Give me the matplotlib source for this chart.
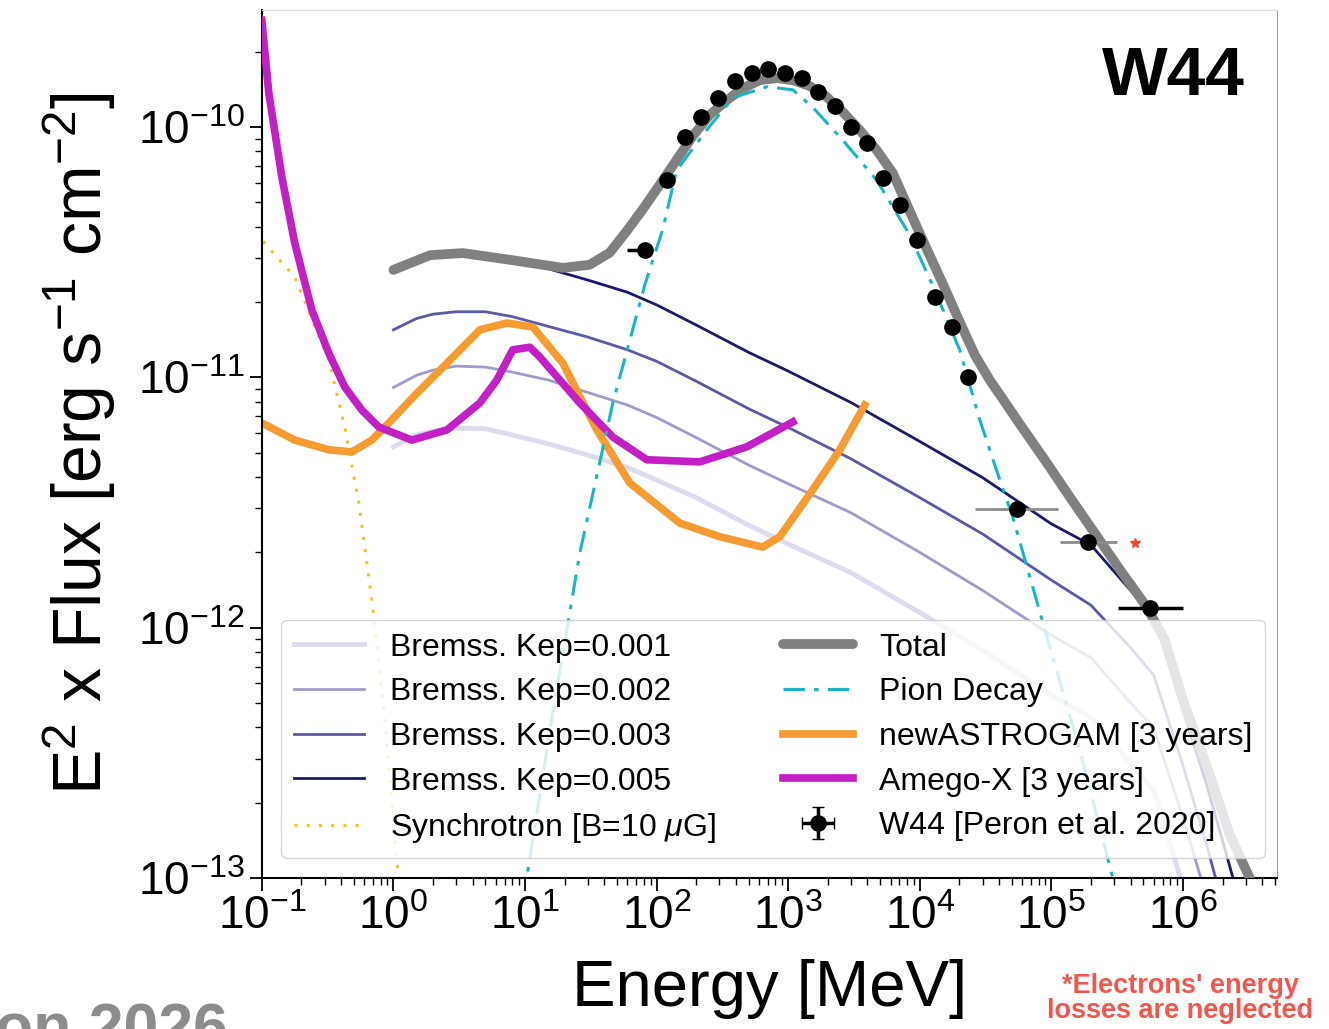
import numpy as np
import matplotlib
matplotlib.use('Agg')
import matplotlib.pyplot as plt
from matplotlib.ticker import LogLocator, NullFormatter

plt.rcParams['font.family'] = ['Liberation Sans', 'DejaVu Sans']
plt.rcParams['mathtext.fontset'] = 'custom'
plt.rcParams['mathtext.rm'] = 'Liberation Sans'
plt.rcParams['mathtext.it'] = 'Liberation Sans:italic'
plt.rcParams['mathtext.bf'] = 'Liberation Sans:bold'

# energies in MeV, fluxes (E^2 x flux) in erg s^-1 cm^-2
brems_E = [1, 1.5, 2, 3, 5, 8, 15, 30, 60, 100, 200, 500, 1e3, 3e3, 1e4, 3e4,
           1e5, 2e5, 4e5, 6e5, 1e6, 1.5e6, 2e6, 2.4e6, 3e6]
brems_kep001 = [5.28e-12, 5.89e-12, 6.10e-12, 6.27e-12, 6.24e-12, 5.89e-12, 5.43e-12,
                4.90e-12, 4.37e-12, 3.89e-12, 3.31e-12, 2.57e-12, 2.16e-12, 1.66e-12,
                1.15e-12, 8.13e-13, 5.37e-13, 4.37e-13, 2.88e-13, 2.24e-13, 9.3e-14,
                4.5e-14, 2.5e-14, 1.6e-14, 8e-15]
brems_kep002 = [9.12e-12, 1.02e-11, 1.07e-11, 1.11e-11, 1.10e-11, 1.05e-11, 9.77e-12,
                8.71e-12, 7.76e-12, 6.92e-12, 5.75e-12, 4.47e-12, 3.76e-12, 2.88e-12,
                2.0e-12, 1.41e-12, 9.33e-13, 7.59e-13, 5.01e-13, 3.98e-13, 1.74e-13,
                8.5e-14, 5.0e-14, 3.2e-14, 1.6e-14]
brems_kep003 = [1.55e-11, 1.72e-11, 1.79e-11, 1.83e-11, 1.83e-11, 1.75e-11, 1.60e-11,
                1.45e-11, 1.29e-11, 1.16e-11, 9.66e-12, 7.50e-12, 6.31e-12, 4.73e-12,
                3.31e-12, 2.37e-12, 1.55e-12, 1.23e-12, 8.32e-13, 6.46e-13, 2.82e-13,
                1.38e-13, 7.9e-14, 5.0e-14, 2.5e-14]
brems_kep005 = [2.69e-11, 2.95e-11, 3.05e-11, 3.14e-11, 3.13e-11, 2.95e-11, 2.72e-11,
                2.45e-11, 2.19e-11, 1.95e-11, 1.62e-11, 1.26e-11, 1.06e-11, 7.94e-12,
                5.55e-12, 3.98e-12, 2.60e-12, 2.14e-12, 1.41e-12, 1.12e-12, 4.68e-13,
                2.40e-13, 1.41e-13, 1.0e-13, 4.5e-14]

sync_E = [0.08, 0.105, 0.178, 0.323, 0.427, 0.546, 0.686, 0.861, 1.06, 1.18]
sync_F = [4.2e-11, 3.44e-11, 2.52e-11, 1.17e-11, 6.34e-12, 3.15e-12, 1.29e-12,
          4.30e-13, 1.19e-13, 6.8e-14]

total_E = [1.0, 1.9, 3.37, 8.07, 19.4, 31, 44, 59.4, 78.6, 106, 142, 188, 254, 341,
           452, 608, 818, 1084, 1459, 1963, 2600, 3500, 4710, 6240, 8390, 11300,
           15000, 20100, 26200, 34000, 44300, 57500, 92300, 1.38e5, 1.96e5, 3.31e5,
           5.31e5, 7.27e5, 1e6, 1.6e6, 2.27e6, 3.22e6, 3.98e6]
total_F = [2.69e-11, 3.08e-11, 3.14e-11, 2.94e-11, 2.74e-11, 2.82e-11, 3.15e-11,
           3.85e-11, 4.70e-11, 5.90e-11, 7.40e-11, 9.20e-11, 1.12e-10, 1.28e-10,
           1.43e-10, 1.54e-10, 1.57e-10, 1.54e-10, 1.46e-10, 1.32e-10, 1.15e-10,
           9.73e-11, 8.09e-11, 6.55e-11, 4.62e-11, 3.26e-11, 2.36e-11, 1.67e-11,
           1.23e-11, 9.77e-12, 7.98e-12, 6.52e-12, 4.56e-12, 3.33e-12, 2.55e-12,
           1.71e-12, 1.21e-12, 8.95e-13, 5.16e-13, 2.59e-13, 1.49e-13, 1.0e-13, 7.4e-14]

pion_E = [9.1, 10.3, 16.3, 26.1, 46.5, 81.3, 111, 142, 240, 379, 687, 1084, 1538,
          2600, 4710, 8390, 13000, 20100, 28600, 40500, 50900, 86100, 1.64e5,
          2.93e5, 3.6e5]
pion_F = [8.1e-14, 1.0e-13, 4.62e-13, 1.99e-12, 7.91e-12, 2.34e-11, 3.88e-11,
          6.73e-11, 9.73e-11, 1.31e-10, 1.45e-10, 1.41e-10, 1.20e-10, 8.87e-11,
          6.14e-11, 3.71e-11, 2.23e-11, 1.29e-11, 6.76e-12, 3.90e-12, 2.77e-12,
          1.05e-12, 3.26e-13, 1.0e-13, 6.2e-14]

astrogam_E = [0.1, 0.178, 0.323, 0.483, 0.686, 0.923, 1.46, 2.55, 4.54, 7.28, 11.5,
              19.4, 35.2, 62.5, 150, 302, 641, 863, 1538, 2470, 3820]
astrogam_F = [6.58e-12, 5.62e-12, 5.14e-12, 5.04e-12, 5.62e-12, 6.58e-12, 8.5e-12,
              1.14e-11, 1.55e-11, 1.65e-11, 1.59e-11, 1.14e-11, 6.17e-12, 3.79e-12,
              2.62e-12, 2.31e-12, 2.10e-12, 2.31e-12, 3.56e-12, 5.14e-12, 7.76e-12]

amego_E = [0.1, 0.113, 0.142, 0.178, 0.240, 0.323, 0.427, 0.575, 0.774, 1.38, 2.55,
           4.54, 6.11, 8.07, 10.9, 12.9, 26.1, 46.5, 84.3, 213, 484, 1084]
amego_F = [2.67e-10, 1.37e-10, 6.31e-11, 3.44e-11, 1.86e-11, 1.25e-11, 9.16e-12,
           7.41e-12, 6.34e-12, 5.62e-12, 6.17e-12, 7.91e-12, 9.77e-12, 1.29e-11,
           1.32e-11, 1.21e-11, 7.91e-12, 5.78e-12, 4.69e-12, 4.60e-12, 5.28e-12, 6.64e-12]

w44_E = [81.3, 120, 164, 217, 292, 393, 529, 699, 942, 1268, 1679, 2260, 2990, 3960,
         5240, 7050, 9490, 13000, 17500, 23200, 54600, 1.89e5, 5.6e5]
w44_F = [3.23e-11, 6.14e-11, 9.12e-11, 1.10e-10, 1.31e-10, 1.53e-10, 1.64e-10,
         1.71e-10, 1.64e-10, 1.57e-10, 1.38e-10, 1.22e-10, 1.0e-10, 8.63e-11, 6.25e-11,
         4.88e-11, 3.54e-11, 2.09e-11, 1.59e-11, 1.0e-11, 2.99e-12, 2.20e-12, 1.20e-12]
# energy bin edges where a horizontal bar is drawn
w44_Emin = [59.4] + w44_E[1:20] + [26200, 1.16e5, 3.2e5]
w44_Emax = [90] + w44_E[1:20] + [1.12e5, 3.14e5, 1.0e6]
grey_bars = [20, 21]  # these two bins are drawn with lighter bars

star_E, star_F = 4.3e5, 2.18e-12

fig = plt.figure(figsize=(13.29, 10.29), dpi=100)
ax = fig.add_axes([0.197, 0.1467, 0.764, 0.8433])

brems_colors = ['#dcdcee', '#9f9bca', '#5a5aa6', '#1b1b6c']
brems_lw = [3.5, 2, 2, 2]
brems_sets = [brems_kep001, brems_kep002, brems_kep003, brems_kep005]
brems_labels = ['Bremss. Kep=0.001', 'Bremss. Kep=0.002', 'Bremss. Kep=0.003',
                'Bremss. Kep=0.005']
handles = []
for F, c, lw, lab in zip(brems_sets, brems_colors, brems_lw, brems_labels):
    h, = ax.plot(brems_E, F, color=c, lw=lw, label=lab, zorder=2)
    handles.append(h)

h_sync, = ax.plot(sync_E, sync_F, color='#f2c318', lw=2.2, ls=(0, (1, 3)),
                  label=r'Synchrotron [B=10 $\mu$G]', zorder=2)
handles.append(h_sync)

h_tot, = ax.plot(total_E, total_F, color='#808080', lw=7, label='Total',
                 solid_capstyle='round', solid_joinstyle='round', zorder=3)
h_pion, = ax.plot(pion_E, pion_F, color='#19b5c2', lw=2.2, ls=(0, (7, 3, 1.5, 3)),
                  label='Pion Decay', zorder=3)
h_astro, = ax.plot(astrogam_E, astrogam_F, color='#f59b32', lw=5.5,
                   label='newASTROGAM [3 years]', zorder=2.5)
h_amego, = ax.plot(amego_E, amego_F, color='#c41fc4', lw=5.5,
                   label='Amego-X [3 years]', zorder=2.6)

E = np.array(w44_E)
F = np.array(w44_F)
xlo = E - np.array(w44_Emin)
xhi = np.array(w44_Emax) - E
black = [i for i in range(len(E)) if i not in grey_bars]
ax.errorbar(E[black], F[black], xerr=[xlo[black], xhi[black]],
            fmt='o', color='black', ms=11, elinewidth=2.5, zorder=5)
ax.errorbar(E[grey_bars], F[grey_bars], xerr=[xlo[grey_bars], xhi[grey_bars]],
            fmt='o', color='black', ecolor='#8c8c8c', ms=11, elinewidth=2, zorder=5)
h_w44 = ax.errorbar([np.nan], [np.nan], xerr=[[1], [1]], yerr=[[1], [1]], fmt='o',
                    color='black', ms=11, elinewidth=2.5, capsize=4,
                    label='W44 [Peron et al. 2020]')
ax.plot([star_E], [star_F], marker='*', color='#f04a3c', ms=7, ls='none', zorder=5)

ax.set_xscale('log')
ax.set_yscale('log')
ax.set_xlim(0.1, 5.2e6)
ax.set_ylim(1e-13, 2.93e-10)

ax.xaxis.set_major_locator(LogLocator(base=10, numticks=20))
ax.xaxis.set_minor_locator(LogLocator(base=10, subs=np.arange(2, 10), numticks=100))
ax.xaxis.set_minor_formatter(NullFormatter())
ax.yaxis.set_minor_locator(LogLocator(base=10, subs=np.arange(2, 10), numticks=100))
ax.yaxis.set_minor_formatter(NullFormatter())
ax.tick_params(which='major', labelsize=33, length=9, width=1.3, direction='out')
ax.tick_params(which='minor', length=5, width=1, direction='out')

for side in ['left', 'bottom']:
    ax.spines[side].set_linewidth(1.5)
ax.spines['top'].set_color('#dddddd')
ax.spines['right'].set_color('#999999')

ax.set_xlabel('Energy [MeV]', fontsize=47, labelpad=14)
ax.set_ylabel(r'E$^2$ x Flux [erg s$^{-1}$ cm$^{-2}$]', fontsize=49, labelpad=14)

ax.text(0.968, 0.96, 'W44', transform=ax.transAxes, ha='right', va='top',
        fontsize=50, fontweight='bold')

leg_handles = handles + [h_tot, h_pion, h_astro, h_amego, h_w44]
ax.legend(handles=leg_handles, ncol=2, loc='lower right',
          bbox_to_anchor=(0.988, 0.023), borderaxespad=0, fontsize=23,
          handlelength=2.2, handletextpad=0.8, columnspacing=2.1,
          labelspacing=0.46, framealpha=0.8, edgecolor='#cccccc')

fig.text(0.888, 0.030, "*Electrons' energy\nlosses are neglected", ha='center',
         va='center', fontsize=19.5, fontweight='bold', color='#f0584f', linespacing=0.95)
fig.text(-0.004, 0.027, 'on 2026', ha='left', va='top', fontsize=45,
         fontweight='bold', color='#8c8c8c')

fig.savefig('out.png', dpi=100)
